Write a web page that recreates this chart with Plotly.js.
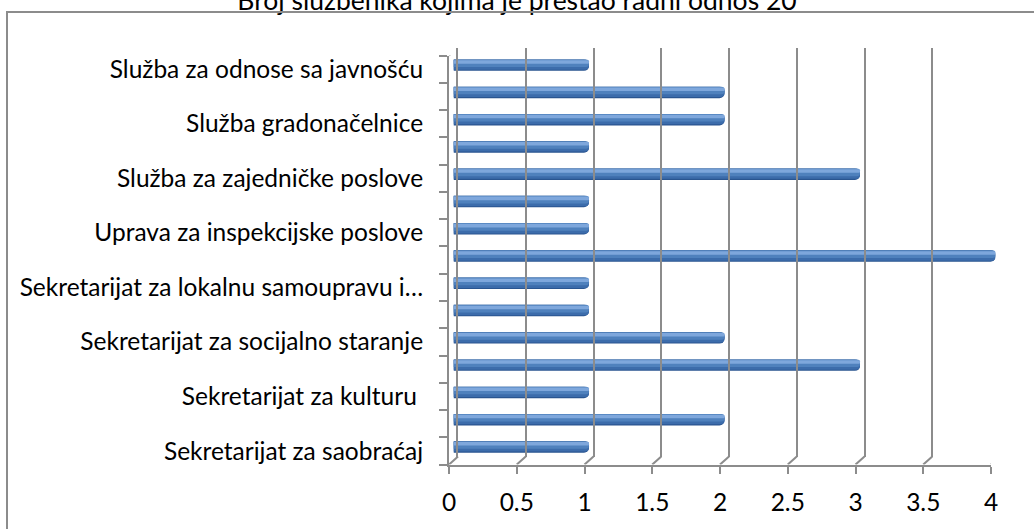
<!DOCTYPE html>
<html>
<head>
<meta charset="utf-8">
<script src="https://cdn.plot.ly/plotly-3.0.1.min.js"></script>
<style>
  html, body { margin: 0; padding: 0; background: #fff; }
  #chart { position: absolute; left: 0; top: 0; width: 1034px; height: 529px; }
  #frame { position: absolute; left: 6px; top: 11px; width: 1100px; height: 600px;
           border-left: 2px solid #8c8c8c; border-top: 2px solid #8c8c8c; pointer-events: none; }
</style>
</head>
<body>
<div id="chart"></div>
<div id="frame"></div>
<script>
// ---- data (bottom to top) ----
const titleText = 'Broj službenika kojima je prestao radni odnos 20';
const categories = [
  'Sekretarijat za saobraćaj', '',
  'Sekretarijat za kulturu ', '',
  'Sekretarijat za socijalno staranje', '',
  'Sekretarijat za lokalnu samoupravu i…', '',
  'Uprava za inspekcijske poslove', '',
  'Služba za zajedničke poslove', '',
  'Služba gradonačelnice', '',
  'Služba za odnose sa javnošću'
];
const values = [1, 2, 1, 3, 2, 1, 1, 4, 1, 1, 3, 1, 2, 2, 1];
const xTicks = [0, 0.5, 1, 1.5, 2, 2.5, 3, 3.5, 4];

// ---- geometry ----
const W = 1034, H = 529;
const front = { x0: 449, x1: 991, yTop: 55.5, yBot: 464.6 };
const depthX = 9, depthY = 8;
const fx = (a, b) => [a / W, b / W];
const fy = (top, bot) => [1 - bot / H, 1 - top / H];

const idx = categories.map((c, i) => i);
const labelIdx = idx.filter(i => i % 2 === 0);
const yRange = [-0.5, categories.length - 0.5];
const grey = '#8c8c8c';
const font = { family: 'Lato, "Open Sans", sans-serif', size: 24.5, color: '#000' };
const titleFont = { family: 'Lato, "Open Sans", sans-serif', size: 26.5, color: '#000' };

// cylinder-like bar layers
const layers = [
  { w: 0.42, off: -0.21, c: '#2a5590' },
  { w: 0.36, off: -0.17, c: '#3c6cab' },
  { w: 0.28, off: -0.07, c: '#4f81bd' },
  { w: 0.13, off: 0.05, c: '#7ea7dc' }
];
const traces = layers.map(L => ({
  type: 'bar', orientation: 'h',
  x: values, y: idx,
  xaxis: 'x2', yaxis: 'y2',
  width: L.w, offset: L.off,
  marker: { color: L.c, line: { width: 0 }, cornerradius: '50%' },
  hoverinfo: 'skip', showlegend: false
}));

// floor diagonals at each x tick + top-left wall corner
const shapes = xTicks.map(v => ({
  type: 'line', xref: 'x', yref: 'y',
  xsizemode: 'pixel', xanchor: v, x0: 0, x1: depthX,
  ysizemode: 'pixel', yanchor: yRange[0], y0: 0, y1: depthY,
  line: { color: grey, width: 2 }
}));
shapes.push({
  type: 'line', xref: 'x', yref: 'y',
  xsizemode: 'pixel', xanchor: 0, x0: 0, x1: depthX,
  ysizemode: 'pixel', yanchor: yRange[1], y0: 0, y1: depthY,
  line: { color: grey, width: 2 }
});

const layout = {
  width: W, height: H,
  margin: { l: 0, r: 0, t: 0, b: 0 },
  paper_bgcolor: '#fff', plot_bgcolor: 'rgba(0,0,0,0)',
  barmode: 'overlay',
  font: font,
  title: { text: titleText, font: titleFont, x: 0.5, xanchor: 'center',
           yref: 'container', y: 1 - 0.3 / H, yanchor: 'middle' },
  xaxis: {
    domain: fx(front.x0, front.x1), range: [0, 4], anchor: 'y',
    tickmode: 'array', tickvals: xTicks,
    ticks: 'outside', ticklen: 7, tickwidth: 2, tickcolor: grey,
    showline: true, linecolor: grey, linewidth: 2,
    showgrid: false, zeroline: false, ticklabelstandoff: 8,
    tickfont: font
  },
  yaxis: {
    domain: fy(front.yTop, front.yBot), range: yRange, anchor: 'x',
    tickmode: 'array', tickvals: labelIdx, ticktext: labelIdx.map(i => categories[i]),
    ticks: '', showline: true, linecolor: grey, linewidth: 2,
    showgrid: false, zeroline: false, ticklabelstandoff: 19,
    minor: { tickmode: 'linear', tick0: 0.5, dtick: 1, ticks: 'outside',
             ticklen: 8, tickwidth: 2, tickcolor: grey, showgrid: false },
    tickfont: font
  },
  xaxis2: {
    domain: fx(front.x0 + depthX / 2, front.x1 + depthX / 2), range: [0, 4], anchor: 'y2',
    visible: false
  },
  yaxis2: {
    domain: fy(front.yTop - depthY / 2, front.yBot - depthY / 2), range: yRange, anchor: 'x2',
    visible: false
  },
  xaxis3: {
    domain: fx(front.x0 + depthX, front.x1 + depthX), range: [0, 4], anchor: 'y3',
    tickmode: 'array', tickvals: xTicks, showticklabels: false, ticks: '',
    showgrid: true, gridcolor: grey, gridwidth: 2, zeroline: false, showline: false
  },
  yaxis3: {
    domain: fy(front.yTop - depthY, front.yBot - depthY), range: yRange, anchor: 'x3',
    showticklabels: false, ticks: '', showgrid: false, zeroline: false,
    showline: true, linecolor: grey, linewidth: 2
  },
  shapes: shapes
};

traces.unshift({ type: 'scatter', x: [], y: [], xaxis: 'x3', yaxis: 'y3', showlegend: false, hoverinfo: 'skip' });
traces.unshift({ type: 'scatter', x: [], y: [], xaxis: 'x', yaxis: 'y', showlegend: false, hoverinfo: 'skip' });

Plotly.newPlot('chart', traces, layout, { displayModeBar: false, staticPlot: true });
</script>
</body>
</html>
